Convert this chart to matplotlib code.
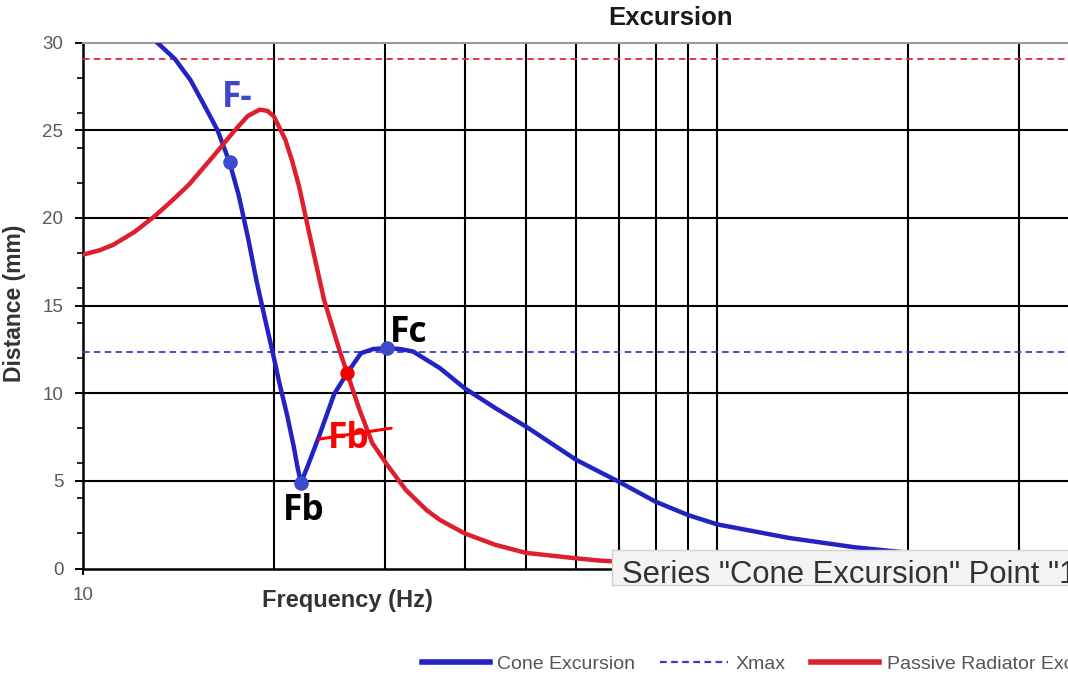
import matplotlib
matplotlib.use('Agg')
import matplotlib.pyplot as plt
from matplotlib.ticker import FixedLocator, NullFormatter, FixedFormatter
from matplotlib.lines import Line2D
from matplotlib.patches import Rectangle
from matplotlib.transforms import offset_copy

plt.rcParams['font.family'] = ['Liberation Sans', 'DejaVu Sans']

# ---------------- data ----------------
cone_freq = [10.0, 11.0, 12.0, 13.09, 13.97, 14.78, 15.49, 16.3, 17.03, 17.6,
             18.2, 18.78, 19.35, 19.95, 20.41, 21.0, 21.5, 21.8, 22.07, 22.6,
             23.6, 24.9, 26.1, 27.44, 28.7, 30.2, 31.6, 33.15, 36.55, 40.0,
             44.7, 50.0, 60.0, 70.0, 80.0, 90.0, 100.0, 130.0, 165.0, 200.0,
             250.0, 300.0, 358.0]
cone_mm = [35.0, 33.2, 31.4, 30.0, 29.05, 27.85, 26.5, 25.0, 23.16, 21.3,
           18.9, 16.4, 14.3, 12.2, 10.57, 8.7, 6.95, 5.75, 4.9, 5.81,
           7.6, 9.95, 11.14, 12.28, 12.52, 12.57, 12.52, 12.38, 11.43, 10.28,
           9.15, 8.09, 6.19, 4.95, 3.81, 3.05, 2.52, 1.74, 1.21, 0.9,
           0.62, 0.45, 0.33]

pr_freq = [10.0, 10.62, 11.16, 12.06, 12.96, 13.79, 14.69, 16.04, 17.3, 18.18,
           18.99, 19.54, 20.0, 20.85, 21.39, 21.92, 22.74, 24.0, 25.37, 26.1,
           27.3, 28.6, 30.2, 32.3, 34.8, 36.55, 40.0, 44.7, 50.0, 60.0,
           65.4, 80.0, 100.0, 150.0, 200.0, 358.0]
pr_mm = [17.9, 18.15, 18.46, 19.2, 20.08, 20.95, 21.89, 23.5, 24.93, 25.8,
         26.17, 26.1, 25.79, 24.46, 23.2, 21.79, 19.13, 15.32, 12.47, 11.14,
         9.05, 7.15, 5.9, 4.48, 3.34, 2.77, 2.0, 1.35, 0.89, 0.58,
         0.45, 0.28, 0.17, 0.08, 0.05, 0.02]

xmax_cone = 12.37
xmax_pr = 29.06

# marked points (freq, mm)
pt_fminus = (17.03, 23.16)
pt_fb = (22.07, 4.9)
pt_fc = (30.2, 12.57)
pt_fb_pr = (26.1, 11.14)

x_grid = [20, 30, 40, 50, 60, 70, 80, 90, 100, 200, 300]
x_tick_vals = [10]
x_tick_labels = ['10']
y_major = [0, 5, 10, 15, 20, 25, 30]
y_minor = [2, 4, 6, 8, 12, 14, 16, 18, 22, 24, 26, 28]

legend_labels = ['Cone Excursion', 'Xmax', 'Passive Radiator Excursion']
tooltip_text = 'Series "Cone Excursion" Point "1'

# ---------------- styling ----------------
BLUE = '#2323c4'
BLUE_DOT = '#3d4acb'
RED = '#dd1f2e'
RED_DOT = '#f20000'

W, H = 1068, 687
fig = plt.figure(figsize=(W / 100, H / 100), dpi=100)
ax = fig.add_axes([83 / W, (H - 568.5) / H, (W - 83) / W, (568.5 - 42.5) / H])
ax.set_xscale('log')
ax.set_xlim(10, 357.8)
ax.set_ylim(0, 30)

ax.xaxis.set_major_locator(FixedLocator(x_tick_vals))
ax.xaxis.set_major_formatter(FixedFormatter(x_tick_labels))
ax.xaxis.set_minor_locator(FixedLocator(x_grid))
ax.xaxis.set_minor_formatter(NullFormatter())
ax.yaxis.set_major_locator(FixedLocator(y_major))
ax.yaxis.set_minor_locator(FixedLocator(y_minor))

ax.grid(True, which='minor', axis='x', color='black', lw=1.5)
for v in y_major[1:-1]:
    ax.axhline(v, color='black', lw=1.5, zorder=0.8)
ax.set_axisbelow(True)

ax.spines['right'].set_visible(False)
ax.spines['left'].set_linewidth(1.8)
ax.spines['bottom'].set_linewidth(1.8)
ax.spines['top'].set_color('#9a9a9a')
ax.spines['top'].set_linewidth(1.5)

ax.tick_params(axis='y', which='major', length=6, width=1.4, color='black',
               labelsize=13.5, labelcolor='#5a5a5a', pad=8.2)
ax.tick_params(axis='y', which='minor', length=4.5, width=1.2, color='black')
ax.tick_params(axis='x', which='major', length=4, width=1.4, color='black',
               labelsize=13.5, labelcolor='#5a5a5a', pad=9.4)
ax.tick_params(axis='x', which='minor', length=0)

# reference lines
ax.axhline(xmax_cone, color='#3a3ad0', lw=1.3, ls=(0, (3.6, 2.4)), zorder=2.6)
ax.axhline(xmax_pr, color='#e0283a', lw=1.3, ls=(0, (3.6, 2.4)), zorder=2.6)

# curves
ax.plot(cone_freq, cone_mm, color=BLUE, lw=3.2, solid_joinstyle='round',
        solid_capstyle='round', zorder=3)
ax.plot(pr_freq, pr_mm, color=RED, lw=3.2, solid_joinstyle='round',
        solid_capstyle='round', zorder=4)

# dots
for p in (pt_fminus, pt_fb, pt_fc):
    ax.plot([p[0]], [p[1]], 'o', ms=10.5, color=BLUE_DOT, mec='none', zorder=6)
ax.plot([pt_fb_pr[0]], [pt_fb_pr[1]], 'o', ms=10.3, color=RED_DOT, mec='none', zorder=6)

lab_kw = dict(textcoords='offset pixels', ha='left', va='baseline',
              fontsize=25.5, fontweight='bold', family=['Open Sans', 'DejaVu Sans'],
              zorder=7, annotation_clip=False)
ax.annotate('F-', xy=pt_fminus, xytext=(-7.3, 55.4), color='#3f47c8', **lab_kw)
ax.annotate('Fc', xy=pt_fc, xytext=(2.7, 6.6), color='black', **lab_kw)
ax.annotate('Fb', xy=pt_fb, xytext=(-17.7, -37.3), color='black', **lab_kw)
ax.annotate('Fb', xy=pt_fb_pr, xytext=(-19.4, -75), color='#ff0000', **lab_kw)
# strike-through line on the red label
ax.annotate('', xy=pt_fb_pr, xycoords=offset_copy(ax.transData, fig=fig, x=44, y=-55, units='dots'),
            xytext=pt_fb_pr, textcoords=offset_copy(ax.transData, fig=fig, x=-28.4, y=-66, units='dots'),
            arrowprops=dict(arrowstyle='-', color='#ff0000', lw=2.2, shrinkA=0, shrinkB=0),
            zorder=7, annotation_clip=False)

# titles / axis labels
fig.text(670.8 / W, 1 - 25 / H, 'Excursion', ha='center', va='baseline',
         fontsize=18.5, fontweight='bold', color='#1a1a1a')
fig.text(347.5 / W, 1 - 606.7 / H, 'Frequency (Hz)', ha='center', va='baseline',
         fontsize=17, fontweight='bold', color='#333333')
fig.text(15 / W, 1 - 303.5 / H, 'Distance (mm)', ha='center', va='center',
         rotation=90, fontsize=16.5, fontweight='bold', color='#333333')

# legend
handles = [Line2D([], [], color=BLUE, lw=4),
           Line2D([], [], color='#3a3ad0', lw=1.6, ls=(0, (3, 2))),
           Line2D([], [], color=RED, lw=4)]
fig.legend(handles, legend_labels, loc='center left',
           bbox_to_anchor=(421.7 / W, 1 - 664 / H), ncol=3, frameon=False,
           fontsize=14, handlelength=3.5, handletextpad=0.38, columnspacing=1.3,
           borderpad=0, borderaxespad=0, labelcolor='#555555')

# tooltip overlay
rect = Rectangle((611.7 / W, 1 - 585 / H), (W - 611.7) / W + 0.02, 35 / H,
                 transform=fig.transFigure, facecolor='#f3f3f3', edgecolor='#d2d2d2',
                 lw=1, zorder=10)
fig.add_artist(rect)
t = fig.text(621.7 / W, 1 - 583.3 / H, tooltip_text, ha='left', va='baseline',
             fontsize=22.3, color='#333333', zorder=11)
t.set_clip_path(rect)

fig.savefig('out.png', dpi=100)
